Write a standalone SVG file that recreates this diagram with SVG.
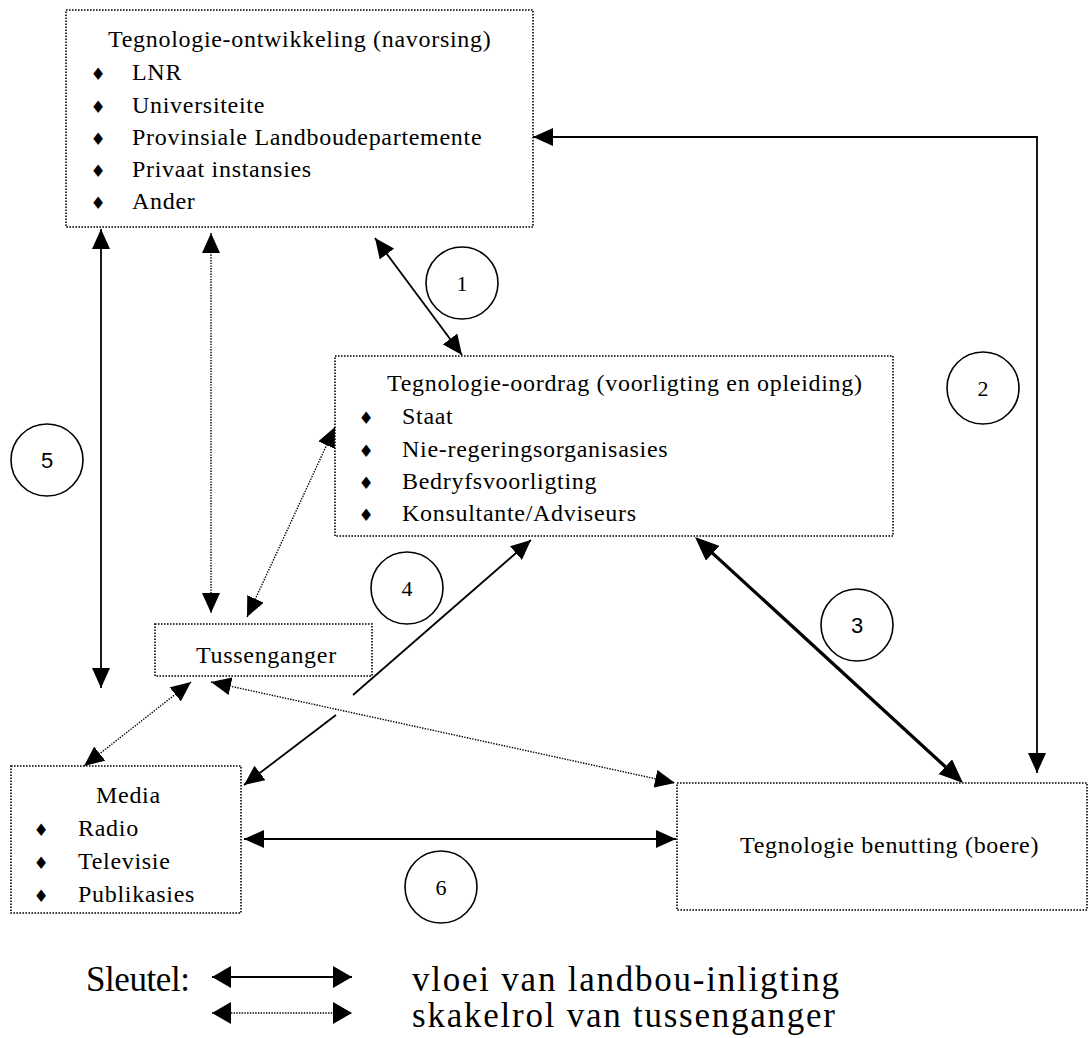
<svg xmlns="http://www.w3.org/2000/svg" width="1088" height="1038" viewBox="0 0 1088 1038">
<style>
.box{fill:none;stroke:#000;stroke-width:1.6;stroke-dasharray:1.6 1.4}
.t{font-family:"Liberation Serif","Times New Roman",serif;font-size:24px;letter-spacing:0.7px;fill:#000}
.b{font-family:"DejaVu Sans",sans-serif;font-size:17px;fill:#000;text-anchor:middle}
.sol{fill:none;stroke:#000;stroke-width:1.8}
.dot{fill:none;stroke:#000;stroke-width:1.4;stroke-dasharray:1.4 1.3}
.c{fill:none;stroke:#000;stroke-width:1.6}
.n{font-family:"Liberation Serif","Times New Roman",serif;font-size:22px;text-anchor:middle;fill:#000}
.ns{font-family:"Liberation Sans",Arial,sans-serif;font-size:22px;text-anchor:middle;fill:#000}
.lg{font-family:"Liberation Serif","Times New Roman",serif;font-size:35px;fill:#000}
</style>
<defs>
<marker id="ah" viewBox="0 0 20 18" markerWidth="20" markerHeight="18" refX="20" refY="9" orient="auto-start-reverse" markerUnits="userSpaceOnUse"><path d="M0,0 L20,9 L0,18 z" fill="#000"/></marker>
<marker id="ahT" viewBox="0 0 24 20" markerWidth="24" markerHeight="20" refX="18" refY="10" orient="auto-start-reverse" markerUnits="userSpaceOnUse"><path d="M0,0 L24,10 L0,20 z" fill="#000"/></marker>
<marker id="ahL" viewBox="0 0 19 22" markerWidth="19" markerHeight="22" refX="19" refY="11" orient="auto-start-reverse" markerUnits="userSpaceOnUse"><path d="M0,0 L19,11 L0,22 z" fill="#000"/></marker>
</defs>
<rect x="0" y="0" width="1088" height="1038" fill="#fff"/>

<g id="connectors">
  <line id="c1" class="sol" x1="375" y1="238" x2="462" y2="355" marker-start="url(#ah)" marker-end="url(#ah)"/>
  <polyline id="c2" class="sol" points="1037,773 1037,137 533,137" marker-start="url(#ah)" marker-end="url(#ah)"/>
  <line id="c3" class="sol" style="stroke-width:3.3" x1="699.4" y1="541.1" x2="958.6" y2="778.9" marker-start="url(#ahT)" marker-end="url(#ahT)"/>
  <line id="c4a" class="sol" x1="353" y1="695" x2="531" y2="540" marker-end="url(#ah)"/>
  <line id="c4b" class="sol" x1="336" y1="715" x2="244" y2="785" marker-end="url(#ah)"/>
  <line id="c5" class="sol" x1="101" y1="229" x2="101" y2="688" marker-start="url(#ah)" marker-end="url(#ah)"/>
  <line id="c6" class="sol" x1="244" y1="839" x2="676" y2="839" marker-start="url(#ah)" marker-end="url(#ah)"/>
  <line id="d1" class="dot" x1="211" y1="233" x2="211" y2="613" marker-start="url(#ah)" marker-end="url(#ah)"/>
  <line id="d2" class="dot" x1="335" y1="427" x2="247" y2="617" marker-start="url(#ah)" marker-end="url(#ah)"/>
  <line id="d3" class="dot" x1="191" y1="682" x2="84" y2="766" marker-start="url(#ah)" marker-end="url(#ah)"/>
  <line id="d4" class="dot" x1="211" y1="682" x2="675" y2="783" marker-start="url(#ah)" marker-end="url(#ah)"/>
</g>

<g id="node-ontwikkeling">
  <rect class="box" x="66" y="10" width="467" height="217"/>
  <text class="t" x="108" y="47">Tegnologie-ontwikkeling (navorsing)</text>
  <text class="b" x="98" y="80">♦</text><text class="t" x="132" y="80">LNR</text>
  <text class="b" x="98" y="112.5">♦</text><text class="t" x="132" y="112.5">Universiteite</text>
  <text class="b" x="98" y="145">♦</text><text class="t" x="132" y="145">Provinsiale Landboudepartemente</text>
  <text class="b" x="98" y="177">♦</text><text class="t" x="132" y="177">Privaat instansies</text>
  <text class="b" x="98" y="209">♦</text><text class="t" x="132" y="209">Ander</text>
</g>

<g id="node-oordrag">
  <rect class="box" x="335" y="356" width="558" height="180"/>
  <text class="t" x="387" y="391">Tegnologie-oordrag (voorligting en opleiding)</text>
  <text class="b" x="366" y="424">♦</text><text class="t" x="402" y="424">Staat</text>
  <text class="b" x="366" y="456.5">♦</text><text class="t" x="402" y="456.5">Nie-regeringsorganisasies</text>
  <text class="b" x="366" y="489">♦</text><text class="t" x="402" y="489">Bedryfsvoorligting</text>
  <text class="b" x="366" y="521">♦</text><text class="t" x="402" y="521">Konsultante/Adviseurs</text>
</g>

<g id="node-tussenganger">
  <rect class="box" x="155" y="624" width="217" height="52"/>
  <text class="t" x="196" y="663">Tussenganger</text>
</g>

<g id="node-media">
  <rect class="box" x="11" y="766" width="230" height="147"/>
  <text class="t" x="96" y="803">Media</text>
  <text class="b" x="41" y="836">♦</text><text class="t" x="78" y="836">Radio</text>
  <text class="b" x="41" y="869">♦</text><text class="t" x="78" y="869">Televisie</text>
  <text class="b" x="41" y="902">♦</text><text class="t" x="78" y="902">Publikasies</text>
</g>

<g id="node-benutting">
  <rect class="box" x="677" y="783" width="410" height="127"/>
  <text class="t" x="740" y="853">Tegnologie benutting (boere)</text>
</g>

<g id="label-1"><circle class="c" cx="462" cy="283" r="36"/><text class="n" x="462" y="291">1</text></g>
<g id="label-2"><circle class="c" cx="983" cy="388" r="36"/><text class="n" x="983" y="396">2</text></g>
<g id="label-3"><circle class="c" cx="857" cy="625" r="36"/><text class="ns" x="857" y="633">3</text></g>
<g id="label-4"><circle class="c" cx="407" cy="588" r="36"/><text class="n" x="407" y="596">4</text></g>
<g id="label-5"><circle class="c" cx="47" cy="460" r="36"/><text class="ns" x="47" y="468">5</text></g>
<g id="label-6"><circle class="c" cx="441" cy="887" r="36"/><text class="n" x="441" y="895">6</text></g>

<g id="legend">
  <text class="lg" x="86" y="991" textLength="104">Sleutel:</text>
  <line class="sol" x1="212" y1="977" x2="352" y2="977" marker-start="url(#ahL)" marker-end="url(#ahL)"/>
  <line class="dot" x1="212" y1="1013" x2="352" y2="1013" marker-start="url(#ahL)" marker-end="url(#ahL)"/>
  <text class="lg" x="412" y="991" textLength="427">vloei van landbou-inligting</text>
  <text class="lg" x="412" y="1027" textLength="423">skakelrol van tussenganger</text>
</g>
</svg>
